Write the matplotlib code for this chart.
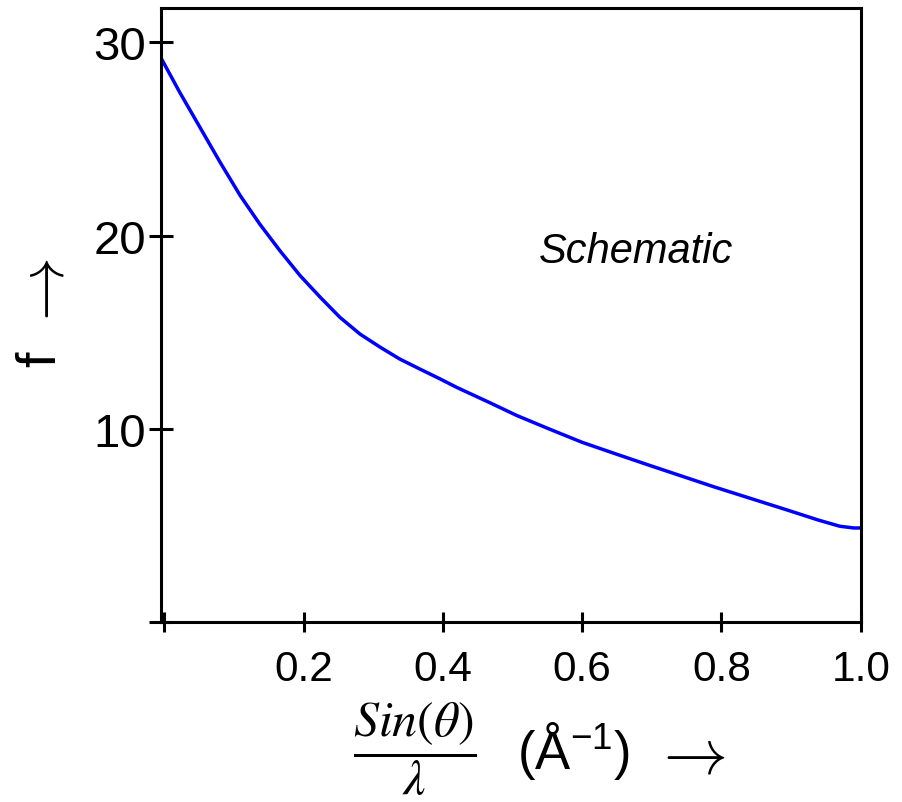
import numpy as np
import matplotlib
matplotlib.use('Agg')
import matplotlib.pyplot as plt

# scattering factor curve (schematic)
s_over_lambda = [-0.004, 0.022, 0.051, 0.080, 0.109, 0.137, 0.166, 0.195, 0.224,
                 0.252, 0.281, 0.310, 0.338, 0.367, 0.396, 0.420, 0.468, 0.506,
                 0.55, 0.60, 0.65, 0.70, 0.75, 0.79, 0.84, 0.89, 0.94, 0.97,
                 0.99, 1.0]
f_values = [29.14, 27.42, 25.61, 23.80, 22.07, 20.60, 19.22, 17.93, 16.81,
            15.78, 14.91, 14.23, 13.62, 13.10, 12.59, 12.15, 11.35, 10.70,
            10.04, 9.31, 8.69, 8.08, 7.48, 7.0, 6.43, 5.86, 5.28, 4.97,
            4.88, 4.88]

x_ticks = [0.0, 0.2, 0.4, 0.6, 0.8, 1.0]
x_tick_labels = ['', '0.2', '0.4', '0.6', '0.8', '1.0']
y_ticks = [0, 10, 20, 30]
y_tick_labels = ['', '10', '20', '30']

plt.rcParams['font.family'] = ['Liberation Sans', 'DejaVu Sans']
plt.rcParams['mathtext.fontset'] = 'custom'
plt.rcParams['mathtext.rm'] = 'Liberation Sans'
plt.rcParams['mathtext.it'] = 'Liberation Sans:italic'
plt.rcParams['mathtext.bf'] = 'Liberation Sans:bold'

W, H = 902, 803
fig = plt.figure(figsize=(W / 100, H / 100), dpi=100)
ax = fig.add_axes([160.7 / W, 1 - 623.3 / H, 700 / W, 614.3 / H])

ax.plot(s_over_lambda, f_values, color='#0000ff', linewidth=2.5,
        solid_capstyle='butt', solid_joinstyle='round')

ax.set_xlim(-0.0053, 1.0)
ax.set_ylim(0, 31.78)

ax.set_xticks(x_ticks, labels=x_tick_labels)
ax.set_yticks(y_ticks, labels=y_tick_labels)
ax.tick_params(axis='x', direction='inout', length=14, width=2.2, labelsize=30.5, pad=12)
ax.tick_params(axis='y', direction='inout', length=17, width=2.2, labelsize=34, pad=2)

for sp in ax.spines.values():
    sp.set_linewidth(2.2)

ax.text(636 / W, 1 - 252 / H, 'Schematic', transform=fig.transFigure,
        fontsize=30, style='italic', ha='center', va='center')

# axis labels
fig.text(41 / W, 1 - 359 / H, 'f', rotation=90, fontsize=40,
         ha='center', va='center')
fig.text(46 / W, 1 - 295 / H, '$\\rightarrow$', rotation=90, fontsize=46,
         math_fontfamily='cm', ha='center', va='center')
fig.text(415 / W, 1 - 749 / H, '$\\dfrac{Sin(\\theta)}{\\lambda}$', fontsize=36,
         math_fontfamily='stix', ha='center', va='center')
fig.text(573 / W, 1 - 751 / H, '(Å$^{-1}$)', fontsize=38, ha='center', va='center')
fig.text(689 / W, 1 - 757 / H, '$\\rightarrow$', fontsize=46,
         math_fontfamily='cm', ha='center', va='center')

fig.savefig('out.png', dpi=100)
